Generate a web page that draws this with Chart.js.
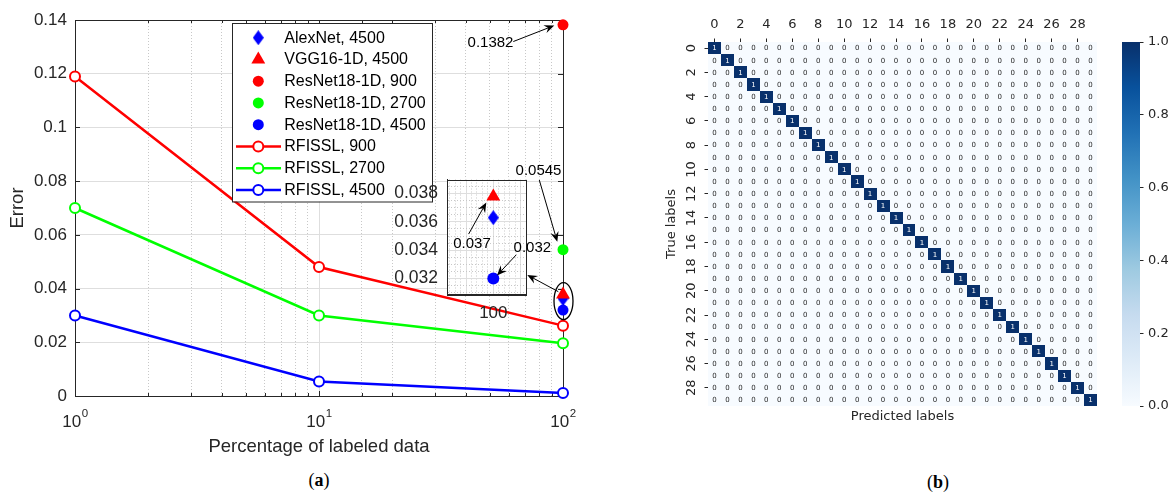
<!DOCTYPE html>
<html>
<head>
<meta charset="utf-8">
<title>RFISSL error and confusion matrix</title>
<script src="https://cdn.jsdelivr.net/npm/chart.js@4.4.1/dist/chart.umd.min.js"></script>
<style>
  html, body { margin:0; padding:0; background:#ffffff; }
  body { position:relative; width:1171px; height:493px; overflow:hidden; }
  canvas { position:absolute; }
  .cap { position:absolute; font-family:'Liberation Serif','DejaVu Serif',serif; font-size:18px; color:#000; transform:translate(-50%,-50%); white-space:nowrap; }
</style>
</head>
<body>
<canvas id="mainChart" width="600" height="465" style="left:0;top:0;width:600px;height:465px"></canvas>
<canvas id="insetChart" width="185" height="165" style="left:380px;top:160px;width:185px;height:165px"></canvas>
<canvas id="heatChart" width="450" height="430" style="left:660px;top:0;width:450px;height:430px"></canvas>
<canvas id="cbarChart" width="71" height="430" style="left:1100px;top:0;width:71px;height:430px"></canvas>
<div class="cap" style="left:319px;top:480px">(<b>a</b>)</div>
<div class="cap" style="left:938px;top:482px">(<b>b</b>)</div>
<script>
// ================= DATA: panel (a) =================
const percentLabeled = [1, 10, 100];
const rfissl900  = [0.119, 0.048, 0.0262];
const rfissl2700 = [0.070, 0.030, 0.0196];
const rfissl4500 = [0.030, 0.0054, 0.0011];
const baselinePercent = [100];
const alexnet4500 = [0.0363];
const vgg16_4500  = [0.0378];
const resnet900   = [0.1382];
const resnet2700  = [0.0545];
const resnet4500  = [0.032];
const seriesLabels = ['AlexNet, 4500', 'VGG16-1D, 4500', 'ResNet18-1D, 900', 'ResNet18-1D, 2700',
                      'ResNet18-1D, 4500', 'RFISSL, 900', 'RFISSL, 2700', 'RFISSL, 4500'];
const xMajorTicks = [1, 10, 100];
const xMajorExponents = ['0', '1', '2'];
const yTickValues = [0, 0.02, 0.04, 0.06, 0.08, 0.1, 0.12, 0.14];
const yTickLabels = ['0', '0.02', '0.04', '0.06', '0.08', '0.1', '0.12', '0.14'];
const insetYTickValues = [0.032, 0.034, 0.036, 0.038];
const insetYTickLabels = ['0.032', '0.034', '0.036', '0.038'];
const insetXTickValues = [100];
const insetXTickLabels = ['100'];
const calloutResNet900 = '0.1382';
const calloutResNet2700 = '0.0545';
const calloutVGG = '0.037';
const calloutResNet4500 = '0.032';

// ================= DATA: panel (b) =================
const classTicks = [0, 2, 4, 6, 8, 10, 12, 14, 16, 18, 20, 22, 24, 26, 28];
const confusionRows = [
  '1000000000 0000000000 0000000000',
  '0100000000 0000000000 0000000000',
  '0010000000 0000000000 0000000000',
  '0001000000 0000000000 0000000000',
  '0000100000 0000000000 0000000000',
  '0000010000 0000000000 0000000000',
  '0000001000 0000000000 0000000000',
  '0000000100 0000000000 0000000000',
  '0000000010 0000000000 0000000000',
  '0000000001 0000000000 0000000000',
  '0000000000 1000000000 0000000000',
  '0000000000 0100000000 0000000000',
  '0000000000 0010000000 0000000000',
  '0000000000 0001000000 0000000000',
  '0000000000 0000100000 0000000000',
  '0000000000 0000010000 0000000000',
  '0000000000 0000001000 0000000000',
  '0000000000 0000000100 0000000000',
  '0000000000 0000000010 0000000000',
  '0000000000 0000000001 0000000000',
  '0000000000 0000000000 1000000000',
  '0000000000 0000000000 0100000000',
  '0000000000 0000000000 0010000000',
  '0000000000 0000000000 0001000000',
  '0000000000 0000000000 0000100000',
  '0000000000 0000000000 0000010000',
  '0000000000 0000000000 0000001000',
  '0000000000 0000000000 0000000100',
  '0000000000 0000000000 0000000010',
  '0000000000 0000000000 0000000001'
];
const colorbarTicks = [0, 0.2, 0.4, 0.6, 0.8, 1.0];
const colorbarLabels = ['0.0', '0.2', '0.4', '0.6', '0.8', '1.0'];

// ================= STYLE =================
const fontSans = "'Liberation Sans', Arial, Helvetica, sans-serif";
const mplFont = "'DejaVu Sans', sans-serif";
const axisColor = '#262626';
const gridMajor = '#dedede';
const gridMinor = '#c8c8c8';
const RED = '#ff0000', GREEN = '#00ff00', BLUE = '#0000ff';
const bluesStops = ['#f7fbff', '#deebf7', '#c6dbef', '#9ecae1', '#6baed6', '#4292c6', '#2171b5', '#08519c', '#08306b'];

Chart.defaults.font.family = fontSans;
Chart.defaults.color = axisColor;

const pts = (xs, ys) => xs.map((x, i) => ({ x: x, y: ys[i] }));
const isDecade = v => Math.abs(Math.log10(v) - Math.round(Math.log10(v))) < 1e-9;
const near = (list, v, eps) => list.findIndex(t => Math.abs(t - v) < eps);

function makeDiamond(color, w, h) {
  const c = document.createElement('canvas');
  c.width = w; c.height = h;
  const g = c.getContext('2d');
  g.fillStyle = color;
  g.beginPath();
  g.moveTo(w / 2, 0); g.lineTo(w, h / 2); g.lineTo(w / 2, h); g.lineTo(0, h / 2);
  g.closePath(); g.fill();
  return c;
}
const diamond = makeDiamond(BLUE, 11, 15);

function drawMarker(ctx, ds, x, y) {
  const st = ds.pointStyle;
  if (st instanceof HTMLCanvasElement) {
    ctx.drawImage(st, x - st.width / 2, y - st.height / 2);
    return;
  }
  const r = ds.pointRadius;
  ctx.beginPath();
  if (st === 'triangle') {
    let rad = 0;
    for (let k = 0; k < 3; k++) {
      const px = x + Math.sin(rad) * r, py = y - Math.cos(rad) * r;
      if (k === 0) ctx.moveTo(px, py); else ctx.lineTo(px, py);
      rad += 2 * Math.PI / 3;
    }
    ctx.closePath();
  } else {
    ctx.arc(x, y, r, 0, Math.PI * 2);
  }
  if (ds.pointBackgroundColor) { ctx.fillStyle = ds.pointBackgroundColor; ctx.fill(); }
  if (ds.pointBorderWidth) { ctx.lineWidth = ds.pointBorderWidth; ctx.strokeStyle = ds.pointBorderColor; ctx.stroke(); }
}

function arrow(ctx, x1, y1, x2, y2) {
  const dx = x2 - x1, dy = y2 - y1, len = Math.hypot(dx, dy);
  const ux = dx / len, uy = dy / len, nx = -uy, ny = ux;
  const L = 10, W = 4.2, back = 6.5;
  ctx.beginPath(); ctx.moveTo(x1, y1); ctx.lineTo(x2 - ux * back, y2 - uy * back); ctx.stroke();
  ctx.beginPath();
  ctx.moveTo(x2, y2);
  ctx.lineTo(x2 - ux * L + nx * W, y2 - uy * L + ny * W);
  ctx.lineTo(x2 - ux * back, y2 - uy * back);
  ctx.lineTo(x2 - ux * L - nx * W, y2 - uy * L - ny * W);
  ctx.closePath(); ctx.fill();
}

function blues(v) {
  const t = Math.max(0, Math.min(1, v)) * (bluesStops.length - 1);
  const i = Math.min(Math.floor(t), bluesStops.length - 2), f = t - i;
  const a = bluesStops[i], b = bluesStops[i + 1];
  const h = (s, k) => parseInt(s.substr(1 + 2 * k, 2), 16);
  const c = [0, 1, 2].map(k => Math.round(h(a, k) + (h(b, k) - h(a, k)) * f));
  return 'rgb(' + c.join(',') + ')';
}

// ================= PANEL (a) MAIN =================
const mainDecor = {
  id: 'mainDecor',
  beforeDatasetsDraw(chart) {
    const { ctx, chartArea: a, scales: { x, y } } = chart;
    ctx.save();
    ctx.strokeStyle = axisColor; ctx.lineWidth = 1;
    const seg = (x1, y1, x2, y2) => { ctx.beginPath(); ctx.moveTo(x1, y1); ctx.lineTo(x2, y2); ctx.stroke(); };
    x.ticks.forEach(t => {
      const px = Math.round(x.getPixelForValue(t.value)) + 0.5;
      const len = isDecade(t.value) ? 5 : 3;
      seg(px, a.bottom, px, a.bottom - len);
      seg(px, a.top, px, a.top + len);
    });
    y.ticks.forEach(t => {
      const py = Math.round(y.getPixelForValue(t.value)) + 0.5;
      seg(a.left, py, a.left + 5, py);
      seg(a.right, py, a.right - 5, py);
    });
    ctx.strokeRect(Math.round(a.left) + 0.5, Math.round(a.top) + 0.5, Math.round(a.right - a.left), Math.round(a.bottom - a.top));
    ctx.restore();
  },
  afterDraw(chart) {
    const { ctx, chartArea: a, scales: { x } } = chart;
    ctx.save();
    // x tick labels 10^k
    ctx.fillStyle = axisColor; ctx.textAlign = 'left'; ctx.textBaseline = 'alphabetic';
    xMajorTicks.forEach((v, i) => {
      const px = x.getPixelForValue(v);
      ctx.font = '17px ' + fontSans; const wb = ctx.measureText('10').width;
      ctx.font = '11.5px ' + fontSans; const we = ctx.measureText(xMajorExponents[i]).width;
      const sx = px - (wb + we) / 2;
      ctx.font = '17px ' + fontSans; ctx.fillText('10', sx, a.bottom + 31);
      ctx.font = '11.5px ' + fontSans; ctx.fillText(xMajorExponents[i], sx + wb + 0.5, a.bottom + 21);
    });
    // legend
    const lx0 = a.left + 157, ly0 = a.top + 3, lw = 200, lh = 178.5;
    ctx.fillStyle = '#ffffff'; ctx.fillRect(lx0, ly0, lw, lh);
    ctx.strokeStyle = axisColor; ctx.lineWidth = 1;
    ctx.strokeRect(Math.round(lx0) + 0.5, Math.round(ly0) + 0.5, lw, lh);
    chart.data.datasets.forEach((ds, i) => {
      const ry = ly0 + 14.7 + i * 21.75;
      if (ds.showLine) {
        ctx.strokeStyle = ds.borderColor; ctx.lineWidth = ds.borderWidth;
        ctx.beginPath(); ctx.moveTo(lx0 + 4, ry); ctx.lineTo(lx0 + 49, ry); ctx.stroke();
      }
      drawMarker(ctx, ds, lx0 + 26.3, ry);
      ctx.fillStyle = '#000'; ctx.font = '16px ' + fontSans; ctx.textBaseline = 'middle'; ctx.textAlign = 'left';
      ctx.fillText(ds.label, lx0 + 52.3, ry + 0.5);
    });
    // callouts
    ctx.fillStyle = '#000'; ctx.strokeStyle = '#000'; ctx.lineWidth = 1;
    ctx.font = '15px ' + fontSans; ctx.textAlign = 'center'; ctx.textBaseline = 'middle';
    const p900 = chart.getDatasetMeta(2).data[0];
    ctx.fillText(calloutResNet900, p900.x - 72.5, p900.y + 18);
    arrow(ctx, p900.x - 49.7, p900.y + 16.7, p900.x - 8.7, p900.y + 0.7);
    const p2700 = chart.getDatasetMeta(3).data[0];
    ctx.fillText(calloutResNet2700, p2700.x - 24.5, p2700.y - 78.6);
    arrow(ctx, p2700.x - 23.7, p2700.y - 69.6, p2700.x - 5.7, p2700.y - 7.9);
    const p4500 = chart.getDatasetMeta(4).data[0];
    ctx.lineWidth = 1.3;
    ctx.beginPath(); ctx.ellipse(p4500.x + 0.5, p4500.y - 9, 9.5, 18.5, 0, 0, Math.PI * 2); ctx.stroke();
    ctx.lineWidth = 1;
    arrow(ctx, p4500.x - 4.7, p4500.y - 18.4, p4500.x - 35.7, p4500.y - 35.1);
    ctx.restore();
  }
};

const mainDatasets = [
  { label: seriesLabels[0], data: pts(baselinePercent, alexnet4500), showLine: false, pointStyle: diamond, pointRadius: 7,
    pointBackgroundColor: BLUE, pointBorderWidth: 0, order: 1, clip: false },
  { label: seriesLabels[1], data: pts(baselinePercent, vgg16_4500), showLine: false, pointStyle: 'triangle', pointRadius: 8,
    pointBackgroundColor: RED, pointBorderColor: RED, pointBorderWidth: 0, order: 0, clip: false },
  { label: seriesLabels[2], data: pts(baselinePercent, resnet900), showLine: false, pointStyle: 'circle', pointRadius: 5.5,
    pointBackgroundColor: RED, pointBorderColor: RED, pointBorderWidth: 0, order: 3, clip: false },
  { label: seriesLabels[3], data: pts(baselinePercent, resnet2700), showLine: false, pointStyle: 'circle', pointRadius: 5.5,
    pointBackgroundColor: GREEN, pointBorderColor: GREEN, pointBorderWidth: 0, order: 3, clip: false },
  { label: seriesLabels[4], data: pts(baselinePercent, resnet4500), showLine: false, pointStyle: 'circle', pointRadius: 5.5,
    pointBackgroundColor: BLUE, pointBorderColor: BLUE, pointBorderWidth: 0, order: 2, clip: false },
  { label: seriesLabels[5], data: pts(percentLabeled, rfissl900), showLine: true, borderColor: RED, borderWidth: 2.5,
    pointStyle: 'circle', pointRadius: 5, pointBorderWidth: 2, pointBorderColor: RED, pointBackgroundColor: '#ffffff', order: 4, clip: false },
  { label: seriesLabels[6], data: pts(percentLabeled, rfissl2700), showLine: true, borderColor: GREEN, borderWidth: 2.5,
    pointStyle: 'circle', pointRadius: 5, pointBorderWidth: 2, pointBorderColor: GREEN, pointBackgroundColor: '#ffffff', order: 4, clip: false },
  { label: seriesLabels[7], data: pts(percentLabeled, rfissl4500), showLine: true, borderColor: BLUE, borderWidth: 2.5,
    pointStyle: 'circle', pointRadius: 5, pointBorderWidth: 2, pointBorderColor: BLUE, pointBackgroundColor: '#ffffff', order: 4, clip: false }
];

new Chart(document.getElementById('mainChart'), {
  type: 'scatter',
  data: { datasets: mainDatasets },
  options: {
    responsive: false, animation: false, events: [],
    layout: { padding: { top: 20, right: 37, left: 0, bottom: 0 } },
    plugins: { legend: { display: false }, tooltip: { enabled: false } },
    scales: {
      x: {
        type: 'logarithmic', position: 'bottom', min: 1, max: 100,
        ticks: { display: false, autoSkip: false },
        grid: { drawTicks: false, lineWidth: 1,
          color: c => (c.tick && !isDecade(c.tick.value)) ? gridMinor : gridMajor },
        border: { display: true, color: axisColor, width: 1,
          dash: c => (c.tick && !isDecade(c.tick.value)) ? [1, 2] : [] },
        title: { display: true, text: 'Percentage of labeled data', color: axisColor,
          font: { family: fontSans, size: 18.5 }, padding: { top: 0, bottom: 7 } },
        afterFit: s => { s.height = 69; }
      },
      y: {
        type: 'linear', min: 0, max: 0.14,
        afterBuildTicks: s => { s.ticks = yTickValues.map(v => ({ value: v })); },
        ticks: { autoSkip: false, padding: 8, color: axisColor, font: { family: fontSans, size: 17 },
          callback: (v, i) => yTickLabels[i] },
        grid: { drawTicks: false, color: gridMajor, lineWidth: 1 },
        border: { display: true, color: axisColor, width: 1 },
        title: { display: true, text: 'Error', color: axisColor,
          font: { family: fontSans, size: 18.5 }, padding: { top: 7, bottom: 0 } },
        afterFit: s => { s.width = 75; }
      }
    }
  },
  plugins: [mainDecor]
});

// ================= PANEL (a) INSET =================
const insetDecor = {
  id: 'insetDecor',
  beforeDraw(chart) {
    const { ctx, chartArea: a } = chart;
    ctx.save(); ctx.fillStyle = '#ffffff';
    ctx.fillRect(a.left, a.top, a.right - a.left, a.bottom - a.top);
    ctx.restore();
  },
  beforeDatasetsDraw(chart) {
    const { ctx, chartArea: a } = chart;
    ctx.save(); ctx.strokeStyle = axisColor; ctx.lineWidth = 1;
    ctx.strokeRect(Math.round(a.left) + 0.5, Math.round(a.top) + 0.5, Math.round(a.right - a.left), Math.round(a.bottom - a.top));
    ctx.restore();
  },
  afterDraw(chart) {
    const { ctx } = chart;
    ctx.save();
    ctx.fillStyle = '#000'; ctx.strokeStyle = '#000'; ctx.lineWidth = 1;
    ctx.font = '15px ' + fontSans; ctx.textAlign = 'center'; ctx.textBaseline = 'middle';
    const t = chart.getDatasetMeta(0).data[0];
    ctx.fillText(calloutVGG, t.x - 21.3, t.y + 47.6);
    arrow(ctx, t.x - 24.7, t.y + 37.6, t.x - 7, t.y + 6);
    const b = chart.getDatasetMeta(2).data[0];
    ctx.fillText(calloutResNet4500, b.x + 39, b.y - 30.7);
    arrow(ctx, b.x + 23, b.y - 23.7, b.x + 3.7, b.y - 3);
    ctx.restore();
  }
};

const insetXGrid = []; for (let k = 492; k <= 506; k++) insetXGrid.push(k / 5);
const insetYGrid = []; for (let k = 62; k <= 77; k++) insetYGrid.push(k / 2000);

new Chart(document.getElementById('insetChart'), {
  type: 'scatter',
  data: { datasets: [
    { label: seriesLabels[1], data: pts(baselinePercent, vgg16_4500), pointStyle: 'triangle', pointRadius: 8,
      pointBackgroundColor: RED, pointBorderWidth: 0, order: 0, clip: false },
    { label: seriesLabels[0], data: pts(baselinePercent, alexnet4500), pointStyle: diamond, pointRadius: 7,
      pointBackgroundColor: BLUE, pointBorderWidth: 0, order: 1, clip: false },
    { label: seriesLabels[4], data: pts(baselinePercent, resnet4500), pointStyle: 'circle', pointRadius: 6,
      pointBackgroundColor: BLUE, pointBorderWidth: 0, order: 2, clip: false }
  ] },
  options: {
    responsive: false, animation: false, events: [],
    layout: { padding: { top: 15, right: 39, left: 0, bottom: 0 } },
    plugins: { legend: { display: false }, tooltip: { enabled: false } },
    scales: {
      x: {
        type: 'linear', min: 98.3, max: 101.2,
        afterBuildTicks: s => { s.ticks = insetXGrid.map(v => ({ value: v })); },
        ticks: { autoSkip: false, maxRotation: 0, minRotation: 0, padding: 8.8, color: axisColor,
          font: { family: fontSans, size: 17 },
          callback: v => { const i = near(insetXTickValues, v, 1e-6); return i >= 0 ? insetXTickLabels[i] : ''; } },
        grid: { drawTicks: false, lineWidth: 1,
          color: c => (c.tick && Math.abs(c.tick.value - Math.round(c.tick.value)) > 1e-6) ? gridMinor : gridMajor },
        border: { display: true, color: axisColor, width: 1,
          dash: c => (c.tick && Math.abs(c.tick.value - Math.round(c.tick.value)) > 1e-6) ? [1, 2] : [] },
        afterFit: s => { s.height = 31; }
      },
      y: {
        type: 'linear', min: 0.0309, max: 0.0390,
        afterBuildTicks: s => { s.ticks = insetYGrid.map(v => ({ value: v })); },
        ticks: { autoSkip: false, padding: 9, color: axisColor, font: { family: fontSans, size: 17.5 },
          callback: v => { const i = near(insetYTickValues, v, 1e-7); return i >= 0 ? insetYTickLabels[i] : ''; } },
        grid: { drawTicks: false, lineWidth: 1,
          color: c => (c.tick && near(insetYTickValues, c.tick.value, 1e-7) < 0) ? gridMinor : gridMajor },
        border: { display: true, color: axisColor, width: 1,
          dash: c => (c.tick && near(insetYTickValues, c.tick.value, 1e-7) < 0) ? [1, 2] : [] },
        afterFit: s => { s.width = 67; }
      }
    }
  },
  plugins: [insetDecor]
});

// ================= PANEL (b) HEATMAP =================
const confusion = confusionRows.map(r => r.replace(/ /g, '').split('').map(Number));
const heatPoints = [];
confusion.forEach((row, i) => row.forEach((v, j) => heatPoints.push({ x: j, y: i, v: v })));

const heatPlugin = {
  id: 'heat',
  beforeDatasetsDraw(chart) {
    const { ctx, scales: { x, y } } = chart;
    const data = chart.data.datasets[0].data;
    ctx.save();
    data.forEach(p => {
      const x0 = Math.round(x.getPixelForValue(p.x - 0.5)), x1 = Math.round(x.getPixelForValue(p.x + 0.5));
      const y0 = Math.round(y.getPixelForValue(p.y - 0.5)), y1 = Math.round(y.getPixelForValue(p.y + 0.5));
      ctx.fillStyle = blues(p.v);
      ctx.fillRect(Math.min(x0, x1), Math.min(y0, y1), Math.abs(x1 - x0), Math.abs(y1 - y0));
    });
    ctx.font = '7px ' + mplFont; ctx.textAlign = 'center'; ctx.textBaseline = 'middle';
    data.forEach(p => {
      ctx.fillStyle = p.v > 0.5 ? '#ffffff' : '#262626';
      ctx.fillText(String(p.v), x.getPixelForValue(p.x), y.getPixelForValue(p.y) + 0.5);
    });
    ctx.restore();
  }
};

new Chart(document.getElementById('heatChart'), {
  type: 'scatter',
  data: { datasets: [{ label: 'confusion', data: heatPoints, pointRadius: 0, pointHoverRadius: 0, xAxisID: 'x', yAxisID: 'y' }] },
  options: {
    responsive: false, animation: false, events: [],
    layout: { padding: { left: 0, top: 0, right: 13, bottom: 0 } },
    plugins: { legend: { display: false }, tooltip: { enabled: false } },
    scales: {
      x: {
        type: 'linear', position: 'top', min: -0.5, max: 29.5,
        afterBuildTicks: s => { s.ticks = classTicks.map(v => ({ value: v })); },
        ticks: { autoSkip: false, maxRotation: 0, minRotation: 0, padding: 5.7, color: axisColor,
          font: { family: mplFont, size: 13 }, callback: (v, i) => String(classTicks[i]) },
        grid: { drawOnChartArea: false, drawTicks: true, tickLength: 3.5, tickColor: axisColor, tickWidth: 1 },
        border: { display: false },
        afterFit: s => { s.height = 42; }
      },
      y: {
        type: 'linear', reverse: true, min: -0.5, max: 29.5,
        afterBuildTicks: s => { s.ticks = classTicks.map(v => ({ value: v })); },
        ticks: { autoSkip: false, minRotation: 90, maxRotation: 90, crossAlign: 'center', padding: 4.5, color: axisColor,
          font: { family: mplFont, size: 13 }, callback: (v, i) => String(classTicks[i]) },
        grid: { drawOnChartArea: false, drawTicks: true, tickLength: 3.5, tickColor: axisColor, tickWidth: 1 },
        border: { display: false },
        title: { display: true, text: 'True labels', color: axisColor, font: { family: mplFont, size: 13 }, padding: { top: 4, bottom: 0 } },
        afterFit: s => { s.width = 48; }
      },
      x2: {
        type: 'linear', position: 'bottom', min: 0, max: 1,
        grid: { display: false }, border: { display: false }, ticks: { display: false },
        title: { display: true, text: 'Predicted labels', color: axisColor, font: { family: mplFont, size: 13 }, padding: { top: 0, bottom: 6 } },
        afterFit: s => { s.height = 24; }
      }
    }
  },
  plugins: [heatPlugin]
});

// ================= PANEL (b) COLORBAR =================
const cbPlugin = {
  id: 'cbar',
  afterDraw(chart) {
    const { ctx, chartArea: a, scales: { y } } = chart;
    const g = ctx.createLinearGradient(0, y.getPixelForValue(0), 0, y.getPixelForValue(1));
    bluesStops.forEach((c, i) => g.addColorStop(i / (bluesStops.length - 1), c));
    ctx.save(); ctx.fillStyle = g;
    ctx.fillRect(Math.round(a.left), Math.round(a.top), Math.round(a.right - a.left), Math.round(a.bottom - a.top));
    ctx.restore();
  }
};

new Chart(document.getElementById('cbarChart'), {
  type: 'scatter',
  data: { datasets: [] },
  options: {
    responsive: false, animation: false, events: [],
    layout: { padding: { left: 22, top: 42, bottom: 24, right: 0 } },
    plugins: { legend: { display: false }, tooltip: { enabled: false } },
    scales: {
      x: { type: 'linear', display: false, min: 0, max: 1 },
      y: {
        type: 'linear', position: 'right', min: 0, max: 1,
        afterBuildTicks: s => { s.ticks = colorbarTicks.map(v => ({ value: v })); },
        ticks: { autoSkip: false, padding: 4.5, color: axisColor, font: { family: mplFont, size: 13 },
          callback: (v, i) => colorbarLabels[i] },
        grid: { drawOnChartArea: false, drawTicks: true, tickLength: 3.5, tickColor: axisColor, tickWidth: 1 },
        border: { display: false },
        afterFit: s => { s.width = 31; }
      }
    }
  },
  plugins: [cbPlugin]
});
</script>
</body>
</html>
